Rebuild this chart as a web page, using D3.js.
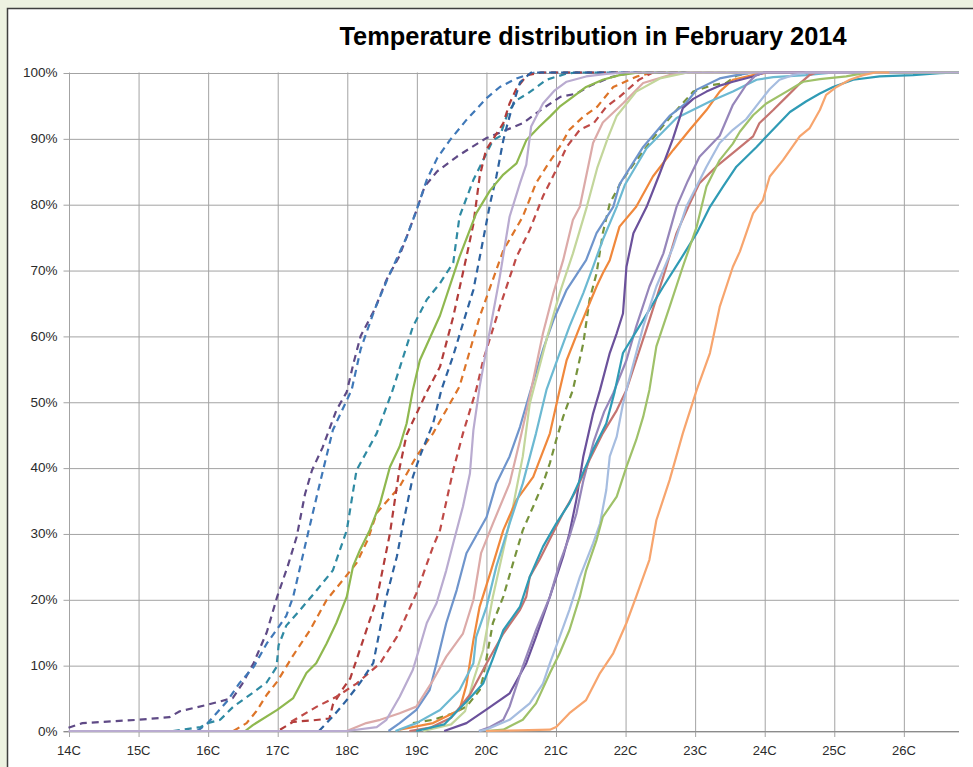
<!DOCTYPE html>
<html>
<head>
<meta charset="utf-8">
<script src="https://cdn.jsdelivr.net/npm/d3@7"></script>
<style>
  html, body { margin: 0; padding: 0; background: #edf2e1; }
  svg { display: block; }
</style>
</head>
<body>
<svg id="chart" width="973" height="767"></svg>
<script>
// ---------- DATA (temperature °C, cumulative %) ----------
const chartTitle = "Temperature distribution in February 2014";
const xTickValues = [14, 15, 16, 17, 18, 19, 20, 21, 22, 23, 24, 25, 26];
const xTickLabels = ["14C","15C","16C","17C","18C","19C","20C","21C","22C","23C","24C","25C","26C"];
const yTickValues = [0, 10, 20, 30, 40, 50, 60, 70, 80, 90, 100];

const purpleDash = [[14.0,0.5],[14.2,1.2],[15.0,1.7],[15.45,2.1],[15.6,3],[16.0,4],[16.36,5],[16.5,7.2],[16.66,10.3],[16.85,15],[17.0,20.4],[17.15,25],[17.28,29.5],[17.4,36],[17.5,39.6],[17.65,43],[17.85,48.7],[18.0,51.5],[18.1,56],[18.2,60],[18.4,64],[18.57,68.5],[18.75,72],[18.86,75],[19.0,79],[19.12,82.7],[19.3,85],[19.58,87.2],[19.77,88.5],[20.0,90],[20.3,91.3],[20.53,92.3],[20.8,94.4],[21.07,96.3],[21.3,96.8],[21.5,98],[21.8,99.3],[22.1,100],[26.8,100]];
const blueDash = [[15.85,0],[16.0,1.2],[16.27,4.4],[16.46,7.3],[16.66,9.7],[16.85,13.3],[17.0,15.5],[17.13,17.5],[17.23,20.4],[17.42,29],[17.59,36.6],[17.8,45.7],[18.07,51.8],[18.2,58],[18.4,64],[18.6,69],[18.86,75],[19.0,79],[19.15,83.7],[19.3,87],[19.48,89.7],[19.72,92.8],[20.01,96.1],[20.2,97.8],[20.44,99.1],[20.7,100],[26.8,100]];
const tealDash = [[15.5,0],[15.9,0.6],[16.0,1.2],[16.18,1.7],[16.37,3.7],[16.65,5.8],[16.85,7.4],[16.99,9.7],[17.02,13],[17.13,16],[17.33,18.4],[17.57,21.4],[17.8,24.4],[18.0,30.5],[18.14,39.6],[18.43,45.2],[18.66,51.8],[18.95,61.4],[19.15,65.5],[19.34,68],[19.53,71.1],[19.62,78.1],[19.82,83.7],[19.96,86.7],[20.1,89.7],[20.2,90.3],[20.32,94],[20.44,95.8],[20.6,96.8],[20.87,98.9],[21.15,99.8],[21.3,100],[26.8,100]];
const orangeDash = [[16.37,0],[16.56,1.2],[16.7,3],[16.85,5.5],[17.0,7.5],[17.23,11.5],[17.47,15.3],[17.71,19.9],[17.95,23],[18.14,25.5],[18.3,29],[18.43,33.1],[18.76,37.1],[19.0,41.7],[19.24,45.2],[19.62,52.3],[19.91,62.9],[20.25,73],[20.53,78.1],[20.72,83.2],[20.87,85.7],[21.06,88.7],[21.2,91.3],[21.4,93.3],[21.6,94.8],[21.83,97.8],[22.17,99.4],[22.4,100],[26.8,100]];
const redDash1 = [[17.04,0.2],[17.23,1.4],[17.5,1.6],[17.75,1.9],[17.8,4],[17.95,6.5],[18.05,8],[18.2,12.7],[18.43,20],[18.62,30],[18.76,40],[18.86,45],[19.15,51.5],[19.34,55.3],[19.53,62.9],[19.72,72],[19.82,77],[19.91,84.2],[20.0,88.2],[20.25,92.3],[20.34,95.3],[20.44,97.6],[20.59,99.6],[20.8,100],[26.8,100]];
const redDash2 = [[17.2,1.4],[17.57,3.7],[17.85,5.2],[18.14,7.2],[18.48,10.3],[18.72,14.3],[19.0,20.9],[19.24,28],[19.34,30.5],[19.53,39.6],[19.67,45.2],[19.86,51.8],[19.96,56.3],[20.2,64.4],[20.44,72],[20.63,76.1],[20.82,81.2],[21.01,85.2],[21.16,88.7],[21.35,91.3],[21.55,92.3],[21.73,94.8],[21.92,96.3],[22.2,98.9],[22.4,100],[26.8,100]];
const darkBlueDash = [[17.6,0],[17.8,2.2],[18.0,4.7],[18.19,7.3],[18.38,10.3],[18.45,14],[18.57,20.4],[18.72,26.5],[18.81,31.5],[18.95,38.6],[19.05,41.7],[19.24,46.7],[19.36,51.8],[19.53,57],[19.67,61.9],[19.82,67],[19.96,74.6],[20.06,80.1],[20.15,84.2],[20.25,89.7],[20.3,91.8],[20.37,94.5],[20.49,98.5],[20.65,100],[26.8,100]];
const oliveDash = [[18.95,1.2],[19.24,1.7],[19.53,2.7],[19.72,3.7],[19.91,6.2],[19.96,8.2],[20.1,16.4],[20.25,20.4],[20.39,25.5],[20.53,30.5],[20.68,34.1],[20.82,37.6],[20.92,40.7],[21.01,44.2],[21.11,47.7],[21.25,51.8],[21.4,58.9],[21.49,65.5],[21.59,69.5],[21.68,75.6],[21.78,80.1],[21.95,83.5],[22.15,86.5],[22.4,90],[22.64,93.1],[22.98,97.1],[23.26,98.1],[23.45,98.4],[23.6,99.5],[23.8,100],[26.8,100]];

const greenSolid = [[16.54,0],[16.65,0.9],[17.0,3.2],[17.23,5],[17.42,8.8],[17.56,10.3],[17.71,13.3],[17.85,16.4],[18.0,20.4],[18.09,25],[18.19,27.5],[18.33,30.5],[18.48,34.6],[18.62,40.1],[18.76,43.2],[18.86,46.7],[18.95,51.8],[19.05,56.3],[19.34,63.1],[19.62,72],[19.86,78.6],[20.06,82.1],[20.25,84.5],[20.44,86.2],[20.58,89.7],[20.77,91.8],[20.92,93.3],[21.06,94.8],[21.25,96.3],[21.44,97.8],[21.68,98.9],[21.92,99.6],[22.2,100],[26.8,100]];
const blueSolid = [[18.6,0],[18.76,1.2],[19.0,3.2],[19.19,6.2],[19.29,10.3],[19.43,16.4],[19.58,21.4],[19.72,27],[20.01,32.5],[20.15,37.6],[20.34,41.7],[20.49,46.2],[20.63,51.3],[20.82,57.9],[20.97,62.4],[21.16,67],[21.44,71.5],[21.59,75.6],[21.83,79.6],[21.92,83],[22.26,88.7],[22.64,93.4],[22.88,95.4],[23.03,97.4],[23.36,99.1],[23.6,99.6],[23.85,100],[26.8,100]];
const pinkSolid = [[18.0,0],[18.28,1.2],[18.48,1.7],[18.76,2.7],[19.0,3.7],[19.24,7.7],[19.43,11.3],[19.67,14.8],[19.82,19.9],[19.93,27],[20.1,31.5],[20.34,37.6],[20.49,44.2],[20.63,50.8],[20.82,60.4],[20.97,66.5],[21.11,71.5],[21.25,77.6],[21.35,79.6],[21.54,89.3],[21.68,92.4],[21.98,95.4],[22.26,98.4],[22.64,99.6],[22.9,100],[26.8,100]];
const lightGreenSolid = [[19.1,0],[19.5,1],[19.7,3],[19.82,7.7],[19.96,12.3],[20.1,20.4],[20.25,27.5],[20.39,34.1],[20.53,41.7],[20.63,49.7],[20.87,59.4],[21.06,66.5],[21.25,72.5],[21.45,79.6],[21.6,85.5],[21.75,90],[21.88,93.4],[22.16,97.1],[22.5,99.1],[22.9,100],[26.8,100]];
const orangeSolid = [[18.76,0.2],[19.24,1.2],[19.62,3.2],[19.72,7],[19.82,13.8],[19.91,18.9],[20.06,23.9],[20.25,30.5],[20.44,35.1],[20.68,38.6],[20.92,45.2],[21.06,51.8],[21.16,56.3],[21.35,61.4],[21.59,67.5],[21.68,69.5],[21.78,71.5],[21.92,76.6],[22.16,79.6],[22.4,84.2],[22.69,88.2],[22.93,91.3],[23.17,94.3],[23.36,97.1],[23.55,98.9],[23.84,99.6],[24.05,100],[26.8,100]];
const aquaSolid = [[18.7,0],[19.0,1.2],[19.34,3.2],[19.62,6.2],[19.82,10.3],[19.86,14.3],[20.01,18.9],[20.15,25],[20.34,31.5],[20.53,37.6],[20.72,45.2],[20.87,51.8],[21.06,57.4],[21.2,61.4],[21.4,66.5],[21.54,70.5],[21.68,74.6],[21.88,79.6],[22.0,83],[22.31,88.5],[22.74,93.1],[23.22,95.6],[23.55,97.1],[23.89,98.9],[24.13,99.3],[24.6,99.6],[25.0,100],[26.8,100]];
const darkPurpleSolid = [[19.4,0],[19.72,1.2],[20.0,3.2],[20.34,5.7],[20.58,10.3],[20.72,14.3],[20.92,20.4],[21.11,26.5],[21.2,30],[21.3,35.1],[21.4,41.7],[21.54,48.2],[21.64,51.8],[21.78,57.4],[21.88,60.4],[21.97,63.4],[22.02,70.5],[22.12,75.6],[22.31,79.6],[22.5,84.7],[22.69,90],[22.83,94.6],[22.98,96],[23.17,97.1],[23.36,98],[23.55,98.6],[23.84,99.4],[24.0,100],[26.8,100]];
const purpleSolid = [[19.9,0],[20.06,0.6],[20.25,1.7],[20.34,3.7],[20.53,9.8],[20.72,15.3],[20.92,20.4],[21.06,25.5],[21.2,29.5],[21.3,33],[21.4,38],[21.55,44],[21.7,48.5],[21.83,51.3],[22.02,56.3],[22.16,61.4],[22.35,67.5],[22.55,72.5],[22.74,79.6],[22.9,83.5],[23.07,87.2],[23.36,90.4],[23.55,95.1],[23.74,98.1],[23.88,99.6],[24.0,100],[26.8,100]];
const roseSolid = [[18.9,0],[19.2,0.5],[19.5,2],[19.77,5.5],[20.01,10.3],[20.25,14.8],[20.49,18.4],[20.58,20.4],[20.63,23.4],[20.77,26],[20.96,30],[21.11,33.1],[21.3,36.6],[21.49,41.2],[21.68,45.2],[21.88,48.7],[22.02,51.8],[22.16,56.3],[22.35,62.4],[22.55,69],[22.74,75.6],[22.93,80.1],[23.07,83.2],[23.31,85.7],[23.6,88.2],[23.84,90.3],[23.93,92.3],[24.13,94.3],[24.32,96.3],[24.51,98.3],[24.65,99.6],[24.75,100],[26.8,100]];
const darkTealSolid = [[19.0,0],[19.4,1],[19.77,5],[19.96,7.2],[20.1,11],[20.25,15.3],[20.49,18.9],[20.63,23.4],[20.82,28],[21.01,31.5],[21.2,34.6],[21.35,38.1],[21.54,42.7],[21.73,46.7],[21.85,51.5],[21.97,57.4],[22.26,62.4],[22.55,67.5],[22.79,71.5],[23.03,75.6],[23.22,79.6],[23.41,82.7],[23.6,85.7],[23.89,88.7],[24.08,90.8],[24.37,94],[24.6,95.6],[24.8,96.8],[24.99,97.8],[25.28,98.9],[25.66,99.4],[26.14,99.6],[26.52,99.9],[26.8,100]];
const lightBlueSolid = [[19.9,0],[20.0,0.2],[20.34,1.7],[20.63,4.2],[20.82,7.2],[20.92,10.3],[21.06,14.3],[21.2,18.4],[21.35,23.4],[21.54,28.5],[21.64,31.5],[21.73,36.6],[21.78,41.7],[21.88,44.7],[21.97,49.7],[22.05,53],[22.26,61.4],[22.45,67.5],[22.69,73.5],[22.88,79.6],[23.17,85.7],[23.36,89.3],[23.55,91.3],[23.74,92.9],[23.93,95.5],[24.08,97.5],[24.22,98.9],[24.41,99.6],[24.6,100],[26.8,100]];
const greenSolid2 = [[20.0,0],[20.25,0.2],[20.53,1.7],[20.72,4.2],[20.92,8.8],[21.06,11.8],[21.2,15.3],[21.35,20.4],[21.44,24.4],[21.59,29],[21.68,32.5],[21.88,35.6],[22.02,40.1],[22.16,44.2],[22.26,47.7],[22.35,51.8],[22.45,58.4],[22.64,64.4],[22.83,70.5],[23.03,76.6],[23.17,82.7],[23.36,86.7],[23.55,89.2],[23.65,91],[23.84,93.5],[24.03,95.3],[24.32,97.1],[24.56,98.6],[24.8,99],[25.18,99.4],[25.37,99.8],[25.5,100],[26.8,100]];
const lavenderSolid = [[14.0,0],[18.0,0],[18.43,0.6],[18.57,1.7],[18.76,5.2],[18.95,9.3],[19.05,12.8],[19.15,16.4],[19.29,19.4],[19.43,24.4],[19.53,28.5],[19.67,34.1],[19.77,39.1],[19.82,45.7],[19.91,52.3],[20.06,61],[20.2,69],[20.34,78.1],[20.49,83.2],[20.58,86],[20.65,91.8],[20.82,95.3],[20.98,97.2],[21.16,98.6],[21.44,99.4],[21.73,99.8],[22.0,100],[26.8,100]];
const lightOrangeSolid = [[20.0,0],[20.92,0.2],[21.01,0.6],[21.2,2.7],[21.44,4.7],[21.64,8.8],[21.83,11.8],[22.02,16.4],[22.16,20.4],[22.35,26],[22.45,32],[22.64,38.1],[22.83,45.2],[23.03,51.8],[23.22,57.4],[23.36,64.4],[23.55,70.5],[23.65,72.8],[23.84,78.6],[23.98,80.6],[24.08,84.2],[24.27,86.7],[24.51,90.3],[24.65,91.5],[24.8,94.3],[24.89,96.6],[25.04,97.8],[25.23,98.9],[25.42,99.6],[25.6,100],[25.8,100]];

// ---------- series table (drawing order) ----------
const seriesData = [purpleDash, blueDash, tealDash, orangeDash, redDash1, redDash2, darkBlueDash, oliveDash,
  greenSolid, blueSolid, pinkSolid, lightGreenSolid, orangeSolid, aquaSolid, darkPurpleSolid, purpleSolid,
  roseSolid, darkTealSolid, lightBlueSolid, greenSolid2, lavenderSolid, lightOrangeSolid];
const seriesColors = ["#5f4a86", "#3f78b8", "#2f8aa3", "#dd7428", "#b23c3a", "#bf4a47", "#2d62a0", "#77933c",
  "#8fb84f", "#6f95cc", "#dcaaa8", "#c3d69b", "#f0883c", "#6cb9d2", "#6b519b", "#9686ba",
  "#c57470", "#2f9bb5", "#a6bde0", "#9fc169", "#b9abd0", "#f7a56e"];
const seriesDashed = [true, true, true, true, true, true, true, true,
  false, false, false, false, false, false, false, false, false, false, false, false, false, false];

(function draw() {
  const svg = d3.select("#chart");
  const pL = 68.5, pR = 959, pT = 72.5, pB = 731;

  svg.append("rect").attr("x", 7.5).attr("y", 8.5).attr("width", 990).attr("height", 790)
    .attr("fill", "#ffffff").attr("stroke", "#3f3f3f").attr("stroke-width", 1.5);

  const x = d3.scaleLinear().domain([14, 26.8]).range([pL, pR]);
  const y = d3.scaleLinear().domain([0, 100]).range([pB, pT]);

  const fontFam = "'Liberation Sans', Arial, sans-serif";

  // horizontal gridlines + y labels
  const yAxis = d3.axisLeft(y).tickValues(yTickValues).tickFormat(d => d + "%")
    .tickSizeInner(-(pR - pL + 5)).tickSizeOuter(0).tickPadding(6);
  const gy = svg.append("g").attr("transform", `translate(${pL - 5},0)`).call(yAxis);
  gy.select(".domain").remove();
  gy.selectAll("line").attr("stroke", "#a3a3a3").attr("stroke-width", 1)
    .attr("transform", "translate(0,0.5)");
  gy.selectAll("text").attr("fill", "#2b2b2b").style("font-family", fontFam).style("font-size", "13.5px");

  // vertical gridlines + x labels
  const xAxis = d3.axisBottom(x).tickValues(xTickValues).tickFormat((d, i) => xTickLabels[i])
    .tickSizeInner(-(pB - pT + 6)).tickSizeOuter(0).tickPadding(9);
  const gx = svg.append("g").attr("transform", `translate(0,${pB + 6})`).call(xAxis);
  gx.select(".domain").remove();
  gx.selectAll("line").attr("stroke", "#a3a3a3").attr("stroke-width", 1)
    .attr("transform", "translate(0.5,0)");
  gx.selectAll("text").attr("fill", "#2b2b2b").style("font-family", fontFam).style("font-size", "13px");

  // baseline a bit darker
  svg.append("line").attr("x1", pL - 5).attr("x2", pR).attr("y1", y(0) + 0.5).attr("y2", y(0) + 0.5)
    .attr("stroke", "#8c8c8c").attr("stroke-width", 1);

  // lines
  const line = d3.line().x(d => x(d[0])).y(d => y(d[1]));
  const g = svg.append("g");
  seriesData.forEach((data, i) => {
    g.append("path")
      .attr("d", line(data))
      .attr("fill", "none")
      .attr("stroke", seriesColors[i])
      .attr("stroke-width", 2.2)
      .attr("stroke-linejoin", "round")
      .attr("stroke-dasharray", seriesDashed[i] ? "7,5" : null);
  });

  // title
  svg.append("text")
    .attr("x", 593).attr("y", 45)
    .attr("text-anchor", "middle")
    .attr("textLength", 507).attr("lengthAdjust", "spacingAndGlyphs")
    .style("font-family", fontFam)
    .style("font-weight", "bold").style("font-size", "25px").attr("fill", "#000")
    .text(chartTitle);
})();
</script>
</body>
</html>
